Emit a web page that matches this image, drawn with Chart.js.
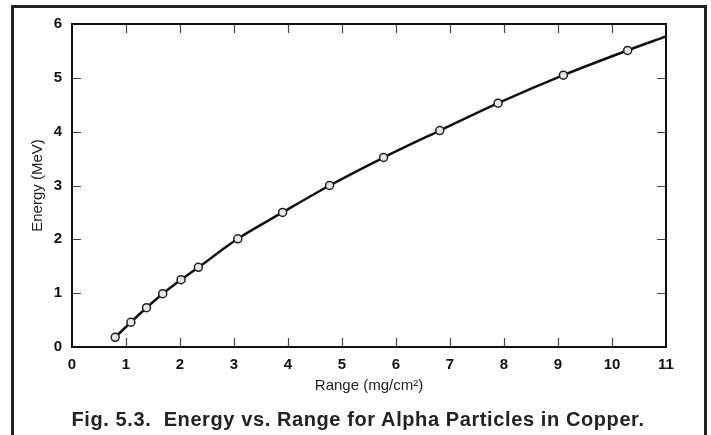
<!DOCTYPE html>
<html>
<head>
<meta charset="utf-8">
<script src="https://cdn.jsdelivr.net/npm/chart.js@4"></script>
<style>
  html, body { margin: 0; padding: 0; background: #fff; overflow: hidden; }
  #wrap { position: relative; width: 711px; height: 435px; }
  #frame { position: absolute; left: 11px; top: 5px; width: 696px; height: 500px;
           border: 3px solid #222; box-sizing: border-box; pointer-events: none; }
  #caption { position: absolute; left: 0; width: 716px; top: 408px; text-align: center;
             font: bold 20px "Liberation Sans", Arial, sans-serif; letter-spacing: 0.6px;
             color: #222; white-space: pre; }
  canvas { position: absolute; left: 0; top: 0; }
</style>
</head>
<body>
<div id="wrap">
  <canvas id="c" width="711" height="435"></canvas>
  <div id="frame"></div>
  <div id="caption">Fig. 5.3.  Energy vs. Range for Alpha Particles in Copper.</div>
</div>
<script>
// Measured points (range in mg/cm², energy in MeV)
const rangeData  = [0.80, 1.09, 1.38, 1.68, 2.02, 2.34, 3.07, 3.90, 4.77, 5.77, 6.81, 7.89, 9.10, 10.29];
const energyData = [0.18, 0.46, 0.73, 0.99, 1.25, 1.48, 2.01, 2.50, 3.00, 3.52, 4.02, 4.53, 5.05, 5.51];
// Fitted curve: through the measured points, continued to the right edge
const curveRange  = [...rangeData, 11.0];
const curveEnergy = [...energyData, 5.77];
// Axis tick values
const xTicks = [0, 1, 2, 3, 4, 5, 6, 7, 8, 9, 10, 11];
const yTicks = [0, 1, 2, 3, 4, 5, 6];

const xyPoints = (xs, ys) => xs.map((x, i) => ({ x: x, y: ys[i] }));

const frameTicks = {
  id: 'frameTicks',
  afterDatasetsDraw(chart) {
    const { ctx, chartArea: a, scales: { x, y } } = chart;
    const len = 9;
    ctx.save();
    ctx.strokeStyle = '#444';
    ctx.lineWidth = 1.2;
    ctx.beginPath();
    xTicks.slice(1, -1).forEach(v => {
      const px = Math.round(x.getPixelForValue(v)) + 0.5;
      ctx.moveTo(px, a.bottom); ctx.lineTo(px, a.bottom - len);
      ctx.moveTo(px, a.top); ctx.lineTo(px, a.top + len);
    });
    yTicks.slice(1, -1).forEach(v => {
      const py = Math.round(y.getPixelForValue(v)) + 0.5;
      ctx.moveTo(a.left, py); ctx.lineTo(a.left + len, py);
      ctx.moveTo(a.right, py); ctx.lineTo(a.right - len, py);
    });
    ctx.stroke();
    ctx.strokeStyle = '#111';
    ctx.lineWidth = 2;
    ctx.strokeRect(a.left, a.top, a.right - a.left, a.bottom - a.top);
    ctx.restore();
  }
};

const FONT = '"Liberation Sans", Arial, sans-serif';

new Chart(document.getElementById('c'), {
  type: 'scatter',
  data: {
    datasets: [
      {
        label: 'measured',
        data: xyPoints(rangeData, energyData),
        showLine: false,
        pointRadius: 4,
        pointBorderWidth: 1.5,
        borderColor: '#222',
        backgroundColor: '#e6e6e6',
        order: 0
      },
      {
        label: 'curve',
        type: 'line',
        data: xyPoints(curveRange, curveEnergy),
        showLine: true,
        fill: false,
        pointRadius: 0,
        borderWidth: 2.5,
        borderColor: '#111',
        cubicInterpolationMode: 'monotone',
        order: 1
      }
    ]
  },
  options: {
    responsive: false,
    animation: false,
    events: [],
    layout: { padding: { left: 0, top: 24, right: 45, bottom: 0 } },
    plugins: { legend: { display: false }, tooltip: { enabled: false } },
    scales: {
      x: {
        type: 'linear', min: 0, max: 11,
        afterBuildTicks: s => { s.ticks = xTicks.map(v => ({ value: v })); },
        afterFit: s => { s.height = 88; },
        grid: { display: false, drawTicks: false },
        border: { display: false },
        ticks: { padding: 9, color: '#111', font: { family: FONT, size: 15, weight: 'bold' } },
        title: { display: true, text: 'Range (mg/cm²)', color: '#222',
                 padding: { top: 0, bottom: 40 },
                 font: { family: FONT, size: 15 } }
      },
      y: {
        type: 'linear', min: 0, max: 6,
        afterBuildTicks: s => { s.ticks = yTicks.map(v => ({ value: v })); },
        afterFit: s => { s.width = 72; },
        grid: { display: false, drawTicks: false },
        border: { display: false },
        ticks: { padding: 10, color: '#111', font: { family: FONT, size: 15, weight: 'bold' } },
        title: { display: true, text: 'Energy (MeV)', color: '#222',
                 padding: { top: 29, bottom: 0 },
                 font: { family: FONT, size: 15 } }
      }
    }
  },
  plugins: [frameTicks]
});
</script>
</body>
</html>
